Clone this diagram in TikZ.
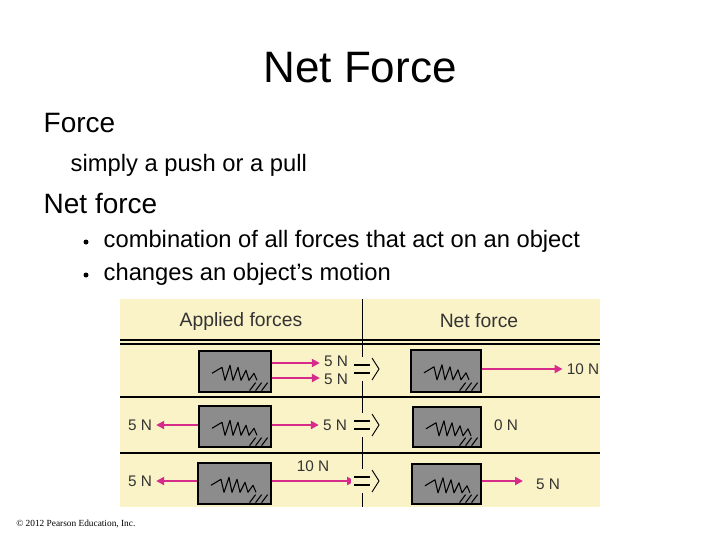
\documentclass[tikz,border=0pt]{standalone}
\usepackage{fontspec}
\setmainfont{Liberation Sans}
\newfontfamily\serifc{Liberation Serif}
\usetikzlibrary{arrows.meta,calc}
\definecolor{panel}{HTML}{FBF3C8}
\definecolor{mag}{HTML}{D62B8A}
\definecolor{blk}{HTML}{8C8C8C}
\begin{document}
\begin{tikzpicture}[x=0.75pt,y=-0.75pt,
  blockbox/.style={draw=black,line width=1.2pt,fill=blk,inner sep=0pt,anchor=north west},
  force/.style={mag,line width=1.6pt,-{Triangle[length=6pt,width=6pt]}},
  lbl/.style={font=\fontsize{11.5}{12}\selectfont,text=black!80,inner sep=3pt},
  scrib/.style={black,line width=0.8pt,line join=round}]
\useasboundingbox (0,0) rectangle (720,540);
\node (title) at (360,68) {\fontsize{33}{38}\selectfont Net Force};
\node[anchor=west] (t1) at (39,123) {\fontsize{21}{24}\selectfont Force};
\node[anchor=west] (t2) at (66,165) {\fontsize{17.8}{21}\selectfont simply a push or a pull};
\node[anchor=west] (t3) at (39,203) {\fontsize{21}{24}\selectfont Net force};
\node[anchor=west] (b1) at (99,241) {\fontsize{17.8}{21}\selectfont combination of all forces that act on an object};
\node[anchor=west] (b2) at (99,274) {\fontsize{17.8}{21}\selectfont changes an object’s motion};
\fill (86,242) circle (2.5);
\fill (86,275) circle (2.5);
\node[anchor=west,inner sep=0pt] (copy) at (16,524) {\serifc\fontsize{7}{8}\selectfont © 2012 Pearson Education, Inc.};
% panel
\fill[panel] (120,299) rectangle (600,507);
\draw[line width=1pt] (120,340) -- (600,340);
\draw[line width=1pt] (120,344) -- (600,344);
\draw[line width=0.8pt] (120,397) -- (600,397);
\draw[line width=0.8pt] (120,453) -- (600,453);
\draw[line width=0.6pt] (362,299) -- (362,507);
\node[font=\fontsize{14.5}{16}\selectfont,text=black!80] (h1) at (241,321) {Applied forces};
\node[font=\fontsize{14.5}{16}\selectfont,text=black!80] (h2) at (479,321) {Net force};
% blocks
\node[blockbox,minimum width=72pt*0.75,minimum height=41pt*0.75] (a1) at (198,350) {};
\node[blockbox,minimum width=70pt*0.75,minimum height=42pt*0.75] (n1) at (410,349) {};
\node[blockbox,minimum width=72pt*0.75,minimum height=41pt*0.75] (a2) at (198,405) {};
\node[blockbox,minimum width=68pt*0.75,minimum height=40pt*0.75] (n2) at (412,406) {};
\node[blockbox,minimum width=73pt*0.75,minimum height=41pt*0.75] (a3) at (197,462) {};
\node[blockbox,minimum width=69pt*0.75,minimum height=40pt*0.75] (n3) at (411,463) {};
% scribbles
\foreach \b in {a1,a2,a3,n1,n2,n3}{
  \draw[scrib] ($(\b.west)+(14,2)$) -- ++(10,-6) -- ++(3,13) -- ++(5,-15) -- ++(3,15) -- ++(5,-13) -- ++(3,13) -- ++(5,-10) -- ++(3,10) -- ++(5,-7) -- ++(3,7);
  \draw[scrib] ($(\b.south east)+(-22,-2)$) -- ++(6,-8) ($(\b.south east)+(-16,-2)$) -- ++(6,-8) ($(\b.south east)+(-10,-2)$) -- ++(6,-8);
}
% labels and coordinates
\node[lbl] (l1a) at (336,361) {5 N};
\node[lbl] (l1b) at (336,379) {5 N};
\node[lbl] (l1n) at (583,369) {10 N};
\node[lbl] (l2l) at (140,425) {5 N};
\node[lbl] (l2r) at (335,425) {5 N};
\node[lbl] (l2n) at (506,425) {0 N};
\node[lbl] (l3l) at (140,481) {5 N};
\node[lbl] (l3r) at (313,466) {10 N};
\node[lbl] (l3n) at (548,484) {5 N};
\coordinate (e3r) at (355,481);
\coordinate (e3n) at (523,481);
% arrows
\draw[force] (a1.east |- 0,363) -- (l1a.west |- 0,363);
\draw[force] (a1.east |- 0,378) -- (l1b.west |- 0,378);
\draw[force] (n1.east |- 0,369) -- (l1n.west);
\draw[force] (a2.west |- 0,425) -- (l2l.east);
\draw[force] (a2.east |- 0,425) -- (l2r.west);
\draw[force] (a3.west |- 0,481) -- (l3l.east);
\draw[force] (a3.east |- 0,481) -- (e3r);
\draw[force] (n3.east |- 0,481) -- (e3n);
% equals-implies
\foreach \y in {369,425,481}{
  \fill[panel] (351,\y-12) rectangle (380,\y+12);
  \draw[line width=1pt] (354,\y-4) -- (370,\y-4);
  \draw[line width=1pt] (354,\y+4) -- (370,\y+4);
  \draw[line width=0.7pt] (372,\y-11) -- (379,\y) -- (372,\y+11);
}
\end{tikzpicture}
\end{document}
